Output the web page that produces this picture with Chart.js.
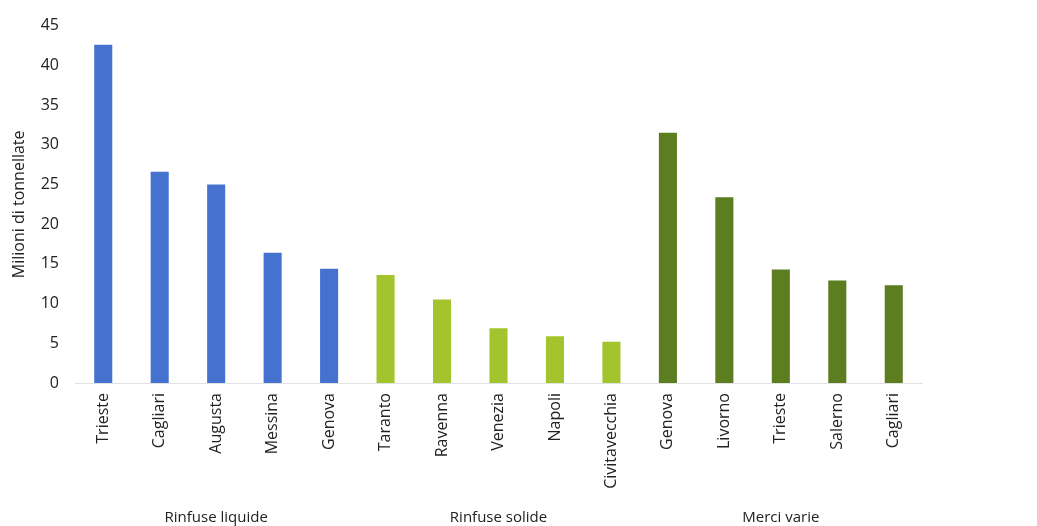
<!DOCTYPE html>
<html>
<head>
<meta charset="utf-8">
<script src="https://cdn.jsdelivr.net/npm/chart.js@4/dist/chart.umd.min.js"></script>
<style>
  html, body { margin: 0; padding: 0; background: #ffffff; }
  #wrap { width: 1037px; height: 526px; }
</style>
</head>
<body>
<div id="wrap"><canvas id="bar-chart" width="1037" height="526"></canvas></div>
<script>
// porti e traffico (milioni di tonnellate)
const ports = ['Trieste', 'Cagliari', 'Augusta', 'Messina', 'Genova',
  'Taranto', 'Ravenna', 'Venezia', 'Napoli', 'Civitavecchia',
  'Genova', 'Livorno', 'Trieste', 'Salerno', 'Cagliari'];
const tonnes = [42.6, 26.6, 25.0, 16.4, 14.4,
  13.6, 10.5, 6.9, 5.9, 5.2,
  31.5, 23.4, 14.3, 12.9, 12.3];
const groupNames = ['Rinfuse liquide', 'Rinfuse solide', 'Merci varie'];
const groupSizes = [5, 5, 5];
const groupColors = ['#4672cf', '#a3c42c', '#5c7d20'];
const yTicks = [0, 5, 10, 15, 20, 25, 30, 35, 40, 45];

const FONT = "'Open Sans', 'Liberation Sans', sans-serif";

// colore di ogni barra secondo il gruppo
const barColors = [];
groupSizes.forEach((n, g) => { for (let i = 0; i < n; i++) barColors.push(groupColors[g]); });

// etichette dei gruppi sotto l'asse
const groupLabels = {
  id: 'groupLabels',
  afterDraw(chart) {
    const ctx = chart.ctx;
    const x = chart.scales.x;
    ctx.save();
    ctx.font = '15px ' + FONT;
    ctx.fillStyle = '#222';
    ctx.textAlign = 'center';
    ctx.textBaseline = 'alphabetic';
    let start = 0;
    groupSizes.forEach((n, g) => {
      const mid = start + (n - 1) / 2;
      ctx.fillText(groupNames[g], x.getPixelForValue(mid), 522);
      start += n;
    });
    ctx.restore();
  }
};

const ctx = document.getElementById('bar-chart').getContext('2d');
new Chart(ctx, {
  type: 'bar',
  data: {
    labels: ports,
    datasets: [{
      data: tonnes,
      backgroundColor: barColors,
      borderWidth: 0,
      categoryPercentage: 1,
      barPercentage: 0.32
    }]
  },
  options: {
    responsive: false,
    animation: false,
    layout: { padding: { top: 20, right: 115, left: 0, bottom: 0 } },
    plugins: {
      legend: { display: false },
      tooltip: { enabled: false }
    },
    scales: {
      x: {
        grid: { display: false, drawTicks: false },
        border: { display: true, color: '#e2e2e2', width: 1 },
        ticks: {
          minRotation: 90,
          maxRotation: 90,
          autoSkip: false,
          padding: 10,
          color: '#222',
          font: { family: FONT, size: 16 }
        },
        afterFit(scale) { scale.height = 143; }
      },
      y: {
        min: 0,
        max: 45,
        grid: { display: false, drawTicks: false },
        border: { display: false },
        afterBuildTicks(scale) { scale.ticks = yTicks.map(v => ({ value: v })); },
        ticks: {
          padding: 16,
          color: '#222',
          font: { family: FONT, size: 16 }
        },
        title: {
          display: true,
          text: 'Milioni di tonnellate',
          color: '#222',
          font: { family: FONT, size: 16 },
          padding: { top: 10, bottom: 4 }
        },
        afterFit(scale) { scale.width = 75; }
      }
    }
  },
  plugins: [groupLabels]
});
</script>
</body>
</html>
